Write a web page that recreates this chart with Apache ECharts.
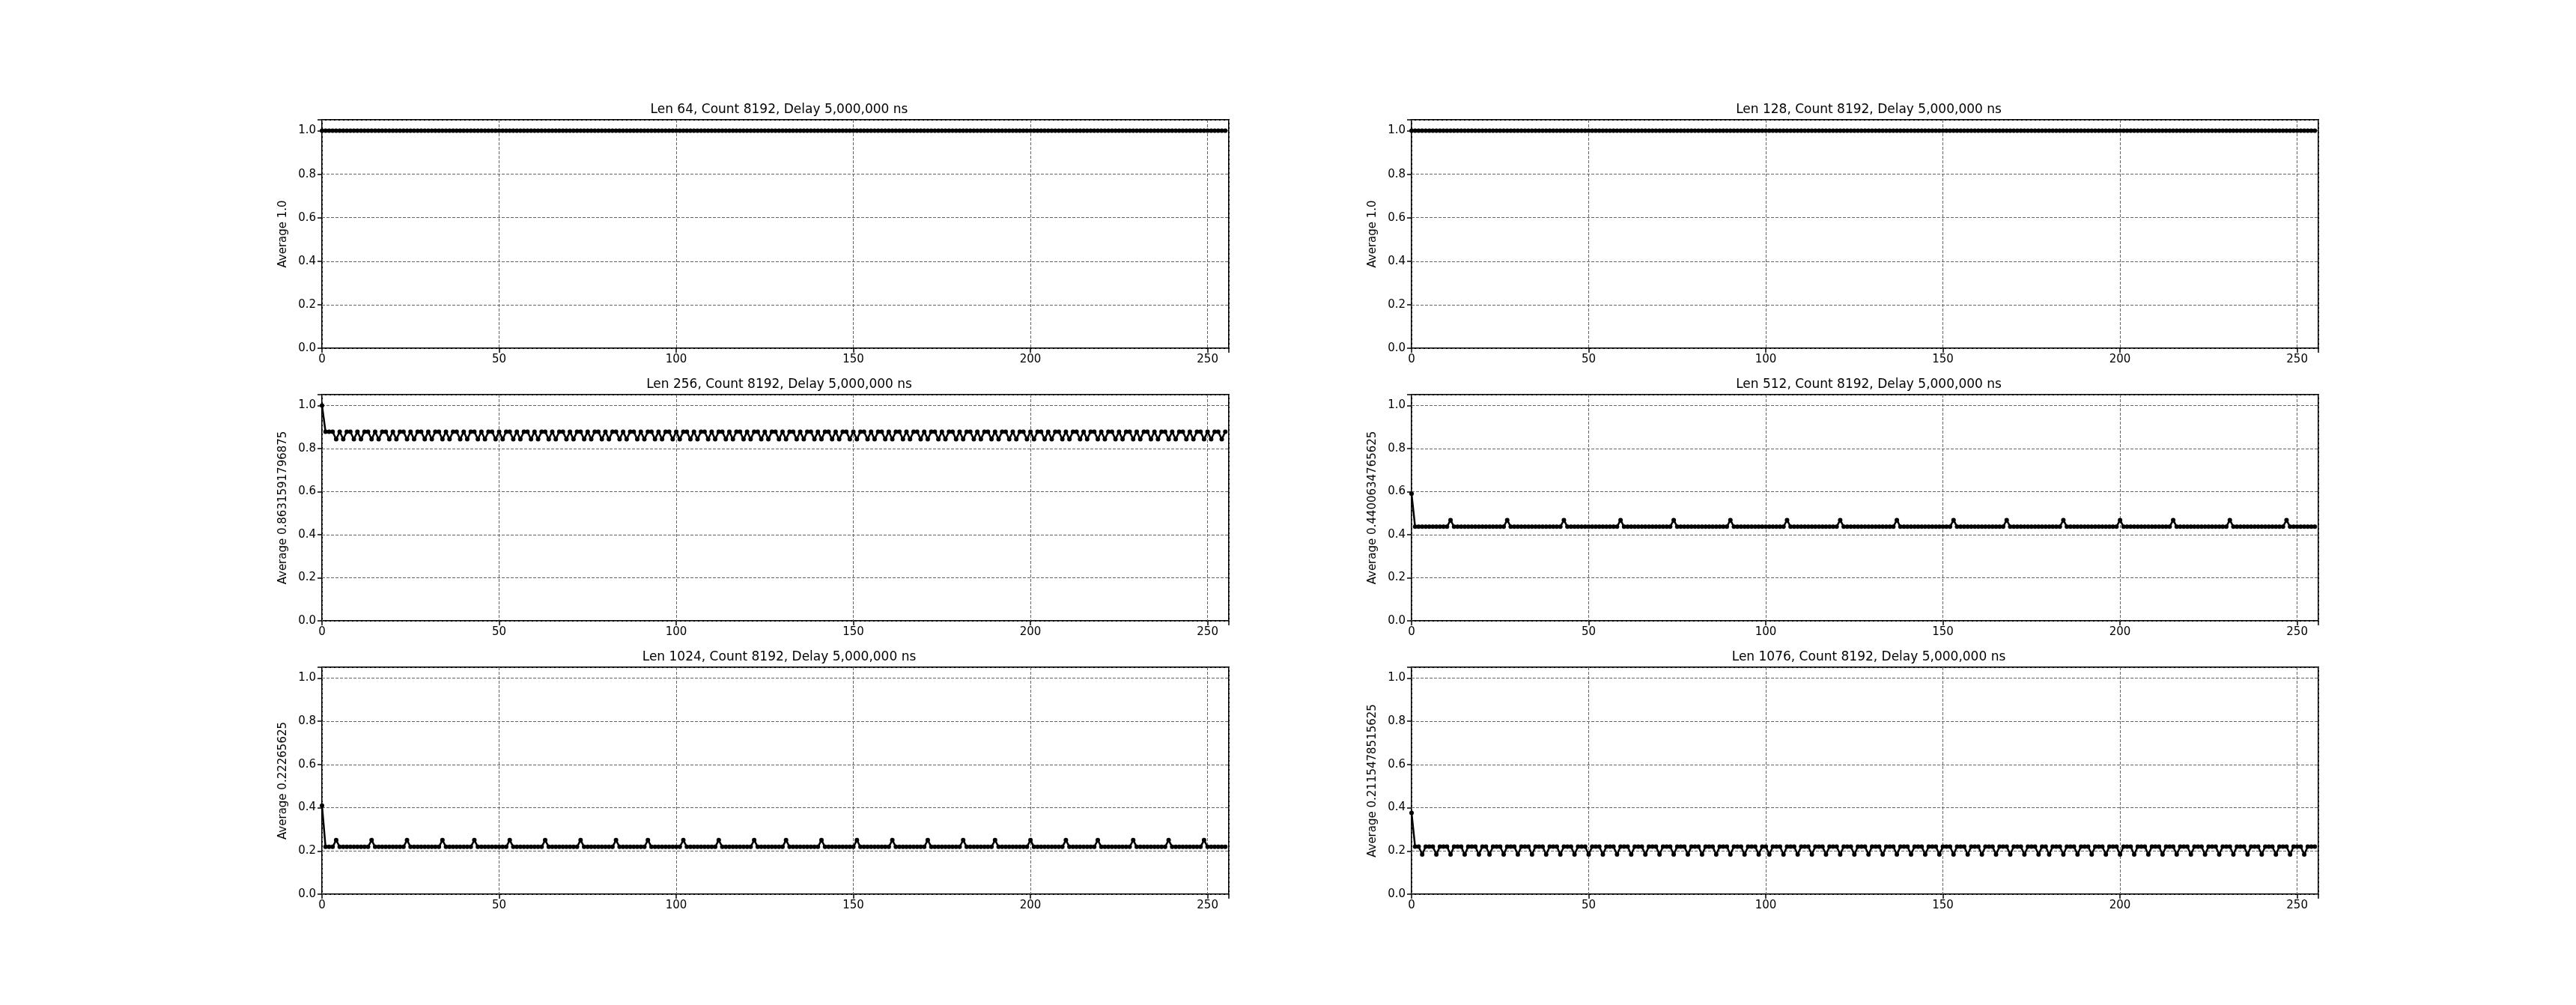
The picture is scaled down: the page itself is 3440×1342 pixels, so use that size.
<!DOCTYPE html>
<html><head><meta charset="utf-8">
<script src="https://cdn.jsdelivr.net/npm/echarts@6/dist/echarts.min.js"></script>
<style>html,body{margin:0;padding:0;background:#fff}#c{width:3440px;height:1342px}</style>
</head><body><div id="c"></div>
<script>
const titles=["Len 64, Count 8192, Delay 5,000,000 ns","Len 128, Count 8192, Delay 5,000,000 ns","Len 256, Count 8192, Delay 5,000,000 ns","Len 512, Count 8192, Delay 5,000,000 ns","Len 1024, Count 8192, Delay 5,000,000 ns","Len 1076, Count 8192, Delay 5,000,000 ns"];
const yNames=["Average 1.0","Average 1.0","Average 0.8631591796875","Average 0.4400634765625","Average 0.22265625","Average 0.2115478515625"];
const xTicks=[0,50,100,150,200,250];
const yTicks=[0,0.2,0.4,0.6,0.8,1.0];
const len64=[
1,1,1,1,1,1,1,1,1,1,1,1,1,1,1,1,1,1,1,1,1,1,1,1,1,1,1,1,1,1,1,1,1,1,1,1,1,1,1,1,1,1,1,1,1,1,1,1,1,1,1,1,1,1,1,1,1,1,1,1,1,1,1,1,
1,1,1,1,1,1,1,1,1,1,1,1,1,1,1,1,1,1,1,1,1,1,1,1,1,1,1,1,1,1,1,1,1,1,1,1,1,1,1,1,1,1,1,1,1,1,1,1,1,1,1,1,1,1,1,1,1,1,1,1,1,1,1,1,
1,1,1,1,1,1,1,1,1,1,1,1,1,1,1,1,1,1,1,1,1,1,1,1,1,1,1,1,1,1,1,1,1,1,1,1,1,1,1,1,1,1,1,1,1,1,1,1,1,1,1,1,1,1,1,1,1,1,1,1,1,1,1,1,
1,1,1,1,1,1,1,1,1,1,1,1,1,1,1,1,1,1,1,1,1,1,1,1,1,1,1,1,1,1,1,1,1,1,1,1,1,1,1,1,1,1,1,1,1,1,1,1,1,1,1,1,1,1,1,1,1,1,1,1,1,1,1,1];
const len128=[
1,1,1,1,1,1,1,1,1,1,1,1,1,1,1,1,1,1,1,1,1,1,1,1,1,1,1,1,1,1,1,1,1,1,1,1,1,1,1,1,1,1,1,1,1,1,1,1,1,1,1,1,1,1,1,1,1,1,1,1,1,1,1,1,
1,1,1,1,1,1,1,1,1,1,1,1,1,1,1,1,1,1,1,1,1,1,1,1,1,1,1,1,1,1,1,1,1,1,1,1,1,1,1,1,1,1,1,1,1,1,1,1,1,1,1,1,1,1,1,1,1,1,1,1,1,1,1,1,
1,1,1,1,1,1,1,1,1,1,1,1,1,1,1,1,1,1,1,1,1,1,1,1,1,1,1,1,1,1,1,1,1,1,1,1,1,1,1,1,1,1,1,1,1,1,1,1,1,1,1,1,1,1,1,1,1,1,1,1,1,1,1,1,
1,1,1,1,1,1,1,1,1,1,1,1,1,1,1,1,1,1,1,1,1,1,1,1,1,1,1,1,1,1,1,1,1,1,1,1,1,1,1,1,1,1,1,1,1,1,1,1,1,1,1,1,1,1,1,1,1,1,1,1,1,1,1,1];
const len256=[
1,.878,.878,.878,.843,.878,.843,.878,.878,.843,
.878,.843,.878,.878,.843,.878,.843,.878,.878,.843,
.878,.843,.878,.878,.843,.878,.843,.878,.878,.843,
.878,.843,.878,.878,.843,.878,.843,.878,.878,.843,
.878,.843,.878,.878,.843,.878,.843,.878,.878,.843,
.878,.843,.878,.878,.843,.878,.843,.878,.878,.843,
.878,.843,.878,.878,.843,.878,.843,.878,.878,.843,
.878,.843,.878,.878,.843,.878,.843,.878,.878,.843,
.878,.843,.878,.878,.843,.878,.843,.878,.878,.843,
.878,.843,.878,.878,.843,.878,.843,.878,.878,.843,
.878,.843,.878,.878,.843,.878,.843,.878,.878,.843,
.878,.843,.878,.878,.843,.878,.843,.878,.878,.843,
.878,.843,.878,.878,.843,.878,.843,.878,.878,.843,
.878,.843,.878,.878,.843,.878,.843,.878,.878,.843,
.878,.843,.878,.878,.843,.878,.843,.878,.878,.843,
.878,.843,.878,.878,.843,.878,.843,.878,.878,.843,
.878,.843,.878,.878,.843,.878,.843,.878,.878,.843,
.878,.843,.878,.878,.843,.878,.843,.878,.878,.843,
.878,.843,.878,.878,.843,.878,.843,.878,.878,.843,
.878,.843,.878,.878,.843,.878,.843,.878,.878,.843,
.878,.843,.878,.878,.843,.878,.843,.878,.878,.843,
.878,.843,.878,.878,.843,.878,.843,.878,.878,.843,
.878,.843,.878,.878,.843,.878,.843,.878,.878,.843,
.878,.843,.878,.878,.843,.878,.843,.878,.878,.843,
.878,.843,.878,.878,.843,.878,.843,.878,.878,.843,
.878,.843,.878,.878,.843,.878];
const len512=[
.59,.437,.437,.437,.437,.437,.437,.437,.437,.437,
.437,.468,.437,.437,.437,.437,.437,.437,.437,.437,
.437,.437,.437,.437,.437,.437,.437,.468,.437,.437,
.437,.437,.437,.437,.437,.437,.437,.437,.437,.437,
.437,.437,.437,.468,.437,.437,.437,.437,.437,.437,
.437,.437,.437,.437,.437,.437,.437,.437,.437,.468,
.437,.437,.437,.437,.437,.437,.437,.437,.437,.437,
.437,.437,.437,.437,.468,.437,.437,.437,.437,.437,
.437,.437,.437,.437,.437,.437,.437,.437,.437,.437,
.468,.437,.437,.437,.437,.437,.437,.437,.437,.437,
.437,.437,.437,.437,.437,.437,.468,.437,.437,.437,
.437,.437,.437,.437,.437,.437,.437,.437,.437,.437,
.437,.468,.437,.437,.437,.437,.437,.437,.437,.437,
.437,.437,.437,.437,.437,.437,.437,.468,.437,.437,
.437,.437,.437,.437,.437,.437,.437,.437,.437,.437,
.437,.437,.437,.468,.437,.437,.437,.437,.437,.437,
.437,.437,.437,.437,.437,.437,.437,.437,.468,.437,
.437,.437,.437,.437,.437,.437,.437,.437,.437,.437,
.437,.437,.437,.437,.468,.437,.437,.437,.437,.437,
.437,.437,.437,.437,.437,.437,.437,.437,.437,.437,
.468,.437,.437,.437,.437,.437,.437,.437,.437,.437,
.437,.437,.437,.437,.437,.468,.437,.437,.437,.437,
.437,.437,.437,.437,.437,.437,.437,.437,.437,.437,
.437,.468,.437,.437,.437,.437,.437,.437,.437,.437,
.437,.437,.437,.437,.437,.437,.437,.468,.437,.437,
.437,.437,.437,.437,.437,.437];
const len1024=[
.41,.219,.219,.219,.25,.219,.219,.219,.219,.219,
.219,.219,.219,.219,.25,.219,.219,.219,.219,.219,
.219,.219,.219,.219,.25,.219,.219,.219,.219,.219,
.219,.219,.219,.219,.25,.219,.219,.219,.219,.219,
.219,.219,.219,.25,.219,.219,.219,.219,.219,.219,
.219,.219,.219,.25,.219,.219,.219,.219,.219,.219,
.219,.219,.219,.25,.219,.219,.219,.219,.219,.219,
.219,.219,.219,.25,.219,.219,.219,.219,.219,.219,
.219,.219,.219,.25,.219,.219,.219,.219,.219,.219,
.219,.219,.25,.219,.219,.219,.219,.219,.219,.219,
.219,.219,.25,.219,.219,.219,.219,.219,.219,.219,
.219,.219,.25,.219,.219,.219,.219,.219,.219,.219,
.219,.219,.25,.219,.219,.219,.219,.219,.219,.219,
.219,.25,.219,.219,.219,.219,.219,.219,.219,.219,
.219,.25,.219,.219,.219,.219,.219,.219,.219,.219,
.219,.25,.219,.219,.219,.219,.219,.219,.219,.219,
.219,.25,.219,.219,.219,.219,.219,.219,.219,.219,
.219,.25,.219,.219,.219,.219,.219,.219,.219,.219,
.219,.25,.219,.219,.219,.219,.219,.219,.219,.219,
.25,.219,.219,.219,.219,.219,.219,.219,.219,.219,
.25,.219,.219,.219,.219,.219,.219,.219,.219,.219,
.25,.219,.219,.219,.219,.219,.219,.219,.219,.25,
.219,.219,.219,.219,.219,.219,.219,.219,.219,.25,
.219,.219,.219,.219,.219,.219,.219,.219,.219,.25,
.219,.219,.219,.219,.219,.219,.219,.219,.219,.25,
.219,.219,.219,.219,.219,.219];
const len1076=[
.376,.22,.22,.184,.22,.22,.22,.184,.22,.22,
.22,.184,.22,.22,.22,.184,.22,.22,.22,.184,
.22,.22,.184,.22,.22,.22,.184,.22,.22,.22,
.184,.22,.22,.22,.184,.22,.22,.22,.184,.22,
.22,.22,.184,.22,.22,.22,.184,.22,.22,.22,
.184,.22,.22,.22,.184,.22,.22,.22,.184,.22,
.22,.22,.184,.22,.22,.22,.184,.22,.22,.22,
.184,.22,.22,.22,.184,.22,.22,.22,.184,.22,
.22,.22,.184,.22,.22,.22,.184,.22,.22,.22,
.184,.22,.22,.22,.184,.22,.22,.22,.184,.22,
.22,.184,.22,.22,.22,.184,.22,.22,.22,.184,
.22,.22,.22,.184,.22,.22,.22,.184,.22,.22,
.22,.184,.22,.22,.22,.184,.22,.22,.22,.184,
.22,.22,.22,.184,.22,.22,.22,.184,.22,.22,
.22,.184,.22,.22,.22,.184,.22,.22,.22,.184,
.22,.22,.22,.184,.22,.22,.22,.184,.22,.22,
.22,.184,.22,.22,.22,.184,.22,.22,.22,.184,
.22,.22,.22,.184,.22,.22,.22,.184,.22,.22,
.184,.22,.22,.22,.184,.22,.22,.22,.184,.22,
.22,.22,.184,.22,.22,.22,.184,.22,.22,.22,
.184,.22,.22,.22,.184,.22,.22,.22,.184,.22,
.22,.22,.184,.22,.22,.22,.184,.22,.22,.22,
.184,.22,.22,.22,.184,.22,.22,.22,.184,.22,
.22,.22,.184,.22,.22,.22,.184,.22,.22,.22,
.184,.22,.22,.22,.184,.22,.22,.22,.184,.22,
.22,.22,.184,.22,.22,.22];
const seriesData=[len64,len128,len256,len512,len1024,len1076];

const lefts=[430,1885], widths=[1211,1211];
const tops=[160,527,891], heights=[305,302,303];
const grids=[],xAxes=[],yAxes=[],series=[],titleArr=[];
const F='"DejaVu Sans", sans-serif';
seriesData.forEach((d,i)=>{
  const col=i%2,row=Math.floor(i/2);
  grids.push({left:lefts[col],top:tops[row],width:widths[col],height:heights[row],show:true,borderColor:'#000',borderWidth:2,containLabel:false});
  titleArr.push({text:titles[i],left:lefts[col]+widths[col]/2,top:tops[row]-27,textAlign:'center',textStyle:{fontFamily:F,fontSize:17,fontWeight:'normal',color:'#000'}});
  xAxes.push({type:'value',gridIndex:i,min:0,max:256,interval:50,
    axisLine:{show:false},axisTick:{show:true,length:6,lineStyle:{color:'#000',width:1.5}},
    axisLabel:{fontFamily:F,fontSize:15,color:'#000',margin:8,formatter:v=>xTicks.includes(v)?String(v):''},
    splitLine:{show:true,lineStyle:{color:'#666',type:[4,2],width:1}}});
  yAxes.push({type:'value',gridIndex:i,min:0,max:1.05,interval:0.2,
    name:yNames[i],nameLocation:'middle',nameGap:44,nameRotate:90,nameTextStyle:{fontFamily:F,fontSize:15,color:'#000'},
    axisLine:{show:false},axisTick:{show:true,length:6,lineStyle:{color:'#000',width:1.5}},
    axisLabel:{fontFamily:F,fontSize:15,color:'#000',margin:8,formatter:v=>yTicks.some(t=>Math.abs(t-v)<1e-6)?v.toFixed(1):''},
    splitLine:{show:true,lineStyle:{color:'#666',type:[4,2],width:1}}});
  series.push({type:'line',xAxisIndex:i,yAxisIndex:i,data:d.map((v,k)=>[k,v]),
    symbol:'circle',symbolSize:6,showAllSymbol:true,itemStyle:{color:'#000'},lineStyle:{color:'#000',width:2.5},animation:false});
});
const chart=echarts.init(document.getElementById('c'));
chart.setOption({backgroundColor:'#fff',animation:false,title:titleArr,grid:grids,xAxis:xAxes,yAxis:yAxes,series:series});
</script></body></html>
